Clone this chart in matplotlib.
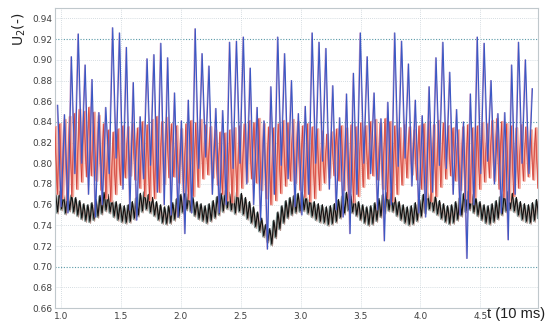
import numpy as np
import matplotlib
matplotlib.use("Agg")
import matplotlib.pyplot as plt

# ---------------- data ----------------
t_start, t_end = 0.95, 4.98

# blue series: spike peaks and the troughs between them
blue_peaks = [0.856, 0.847, 0.903, 0.925, 0.895, 0.881, 0.849, 0.854, 0.931, 0.926,
              0.912, 0.878, 0.845, 0.901, 0.905, 0.916, 0.902, 0.868,
              0.841, 0.861, 0.930, 0.906, 0.894, 0.853, 0.851, 0.917, 0.918, 0.922,
              0.892, 0.854, 0.841, 0.874, 0.922, 0.906, 0.880, 0.848,
              0.855, 0.926, 0.917, 0.911, 0.875, 0.844, 0.867, 0.887, 0.926, 0.903,
              0.868, 0.843, 0.859, 0.926, 0.918, 0.896, 0.861,
              0.846, 0.874, 0.902, 0.917, 0.888, 0.852, 0.840, 0.867, 0.922, 0.916,
              0.880, 0.848, 0.849, 0.895, 0.917, 0.900, 0.872]
blue_troughs = [0.758, 0.752, 0.790, 0.800, 0.770, 0.748, 0.760, 0.790, 0.805, 0.775,
                0.755, 0.745, 0.785, 0.798, 0.772, 0.760, 0.750, 0.748, 0.732, 0.752,
                0.795, 0.806, 0.770, 0.752, 0.760, 0.795, 0.800, 0.780, 0.760, 0.745,
                0.717, 0.770, 0.798, 0.785, 0.758, 0.750, 0.770, 0.800, 0.802, 0.775,
                0.755, 0.748, 0.732, 0.770, 0.800, 0.790, 0.755, 0.725, 0.760, 0.797,
                0.805, 0.778, 0.752, 0.748, 0.772, 0.798, 0.795, 0.770, 0.750, 0.708,
                0.760, 0.790, 0.802, 0.780, 0.752, 0.726, 0.770, 0.800, 0.790]
blue_first_t, blue_last_t = 0.97, 4.93

# red series: oscillation peaks and troughs
red_peaks = [0.835, 0.838, 0.842, 0.845, 0.848, 0.852, 0.850, 0.854, 0.849, 0.846,
             0.838, 0.832, 0.830, 0.833, 0.836, 0.835, 0.838, 0.834, 0.840, 0.837,
             0.842, 0.845, 0.840, 0.844, 0.838, 0.836, 0.833, 0.838, 0.841, 0.839,
             0.842, 0.837, 0.835, 0.832, 0.830, 0.829, 0.832, 0.834, 0.836, 0.838,
             0.841, 0.839, 0.843, 0.838, 0.835, 0.834, 0.838, 0.841, 0.839, 0.842,
             0.840, 0.836, 0.838, 0.835, 0.833, 0.831, 0.828, 0.830, 0.833, 0.836,
             0.834, 0.837, 0.835, 0.839, 0.836, 0.840, 0.842, 0.839, 0.843, 0.840,
             0.836, 0.834, 0.837, 0.835, 0.832, 0.836, 0.838, 0.840, 0.837, 0.841,
             0.839, 0.836, 0.834, 0.832, 0.835, 0.837, 0.834, 0.836, 0.839, 0.838,
             0.841, 0.843, 0.840, 0.838, 0.836, 0.834, 0.837, 0.835, 0.832, 0.834]
red_troughs = [0.770, 0.766, 0.764, 0.768, 0.775, 0.782, 0.787, 0.788, 0.783, 0.774,
               0.766, 0.763, 0.770, 0.779, 0.786, 0.788, 0.784, 0.776, 0.768, 0.764,
               0.766, 0.772, 0.780, 0.786, 0.787, 0.781, 0.772, 0.765, 0.768, 0.777,
               0.785, 0.789, 0.786, 0.779, 0.770, 0.764, 0.762, 0.768, 0.776, 0.782,
               0.785, 0.781, 0.774, 0.766, 0.760, 0.764, 0.771, 0.778, 0.783, 0.781,
               0.774, 0.767, 0.763, 0.766, 0.774, 0.781, 0.786, 0.788, 0.783, 0.774,
               0.766, 0.762, 0.768, 0.777, 0.785, 0.788, 0.784, 0.775, 0.766, 0.763,
               0.770, 0.779, 0.786, 0.789, 0.784, 0.775, 0.767, 0.763, 0.768, 0.777,
               0.785, 0.788, 0.783, 0.774, 0.766, 0.762, 0.767, 0.775, 0.782, 0.786,
               0.783, 0.775, 0.767, 0.763, 0.768, 0.776, 0.783, 0.787, 0.784, 0.776]

# black series: fast oscillation upper / lower values
black_hi = [0.770, 0.772, 0.768, 0.771, 0.769, 0.766, 0.763, 0.760, 0.759, 0.761,
            0.764, 0.768, 0.771, 0.769, 0.765, 0.762, 0.760, 0.758, 0.759, 0.762,
            0.766, 0.770, 0.772, 0.769, 0.766, 0.762, 0.759, 0.757, 0.758, 0.761,
            0.765, 0.769, 0.772, 0.770, 0.766, 0.762, 0.760, 0.758, 0.760, 0.763,
            0.767, 0.770, 0.773, 0.771, 0.769, 0.772, 0.770, 0.766, 0.762, 0.757,
            0.752, 0.746, 0.740, 0.736, 0.744, 0.752, 0.758, 0.763, 0.766, 0.768,
            0.770, 0.771, 0.768, 0.765, 0.762, 0.760, 0.759, 0.757, 0.758, 0.760,
            0.764, 0.768, 0.771, 0.769, 0.766, 0.762, 0.759, 0.757, 0.758, 0.761,
            0.765, 0.769, 0.771, 0.770, 0.766, 0.762, 0.759, 0.757, 0.758, 0.761,
            0.765, 0.769, 0.772, 0.770, 0.767, 0.763, 0.760, 0.758, 0.759, 0.762,
            0.766, 0.770, 0.772, 0.769, 0.766, 0.762, 0.759, 0.758, 0.760, 0.763,
            0.767, 0.770, 0.772, 0.770, 0.766, 0.762, 0.760, 0.759, 0.761, 0.764]
black_lo = [0.752, 0.755, 0.751, 0.754, 0.752, 0.749, 0.746, 0.744, 0.743, 0.745,
            0.748, 0.751, 0.754, 0.752, 0.748, 0.745, 0.743, 0.742, 0.743, 0.746,
            0.749, 0.753, 0.755, 0.752, 0.749, 0.745, 0.742, 0.741, 0.742, 0.745,
            0.748, 0.752, 0.755, 0.753, 0.749, 0.746, 0.744, 0.742, 0.744, 0.747,
            0.750, 0.753, 0.756, 0.754, 0.751, 0.753, 0.750, 0.746, 0.742, 0.738,
            0.734, 0.729, 0.724, 0.721, 0.728, 0.736, 0.742, 0.747, 0.750, 0.752,
            0.753, 0.754, 0.751, 0.748, 0.745, 0.743, 0.742, 0.740, 0.741, 0.743,
            0.747, 0.751, 0.754, 0.752, 0.749, 0.745, 0.742, 0.740, 0.741, 0.744,
            0.748, 0.752, 0.754, 0.753, 0.749, 0.745, 0.742, 0.740, 0.741, 0.744,
            0.748, 0.752, 0.755, 0.753, 0.750, 0.746, 0.743, 0.741, 0.742, 0.745,
            0.749, 0.753, 0.755, 0.752, 0.749, 0.745, 0.742, 0.741, 0.743, 0.746,
            0.750, 0.753, 0.755, 0.753, 0.749, 0.745, 0.743, 0.742, 0.744, 0.747]

x_ticks = [1.0, 1.5, 2.0, 2.5, 3.0, 3.5, 4.0, 4.5]
x_tick_labels = ["1.0", "1.5", "2.0", "2.5", "3.0", "3.5", "4.0", "4.5"]
y_ticks = [0.66, 0.68, 0.70, 0.72, 0.74, 0.76, 0.78, 0.80, 0.82, 0.84,
           0.86, 0.88, 0.90, 0.92, 0.94]
strong_grid = [0.70, 0.84, 0.92]


def interleave(hi, lo):
    out = []
    for a, b in zip(hi, lo):
        out += [a, b]
    return np.array(out)


# ---------------- figure ----------------
fig = plt.figure(figsize=(5.54, 3.25), dpi=100)
ax = fig.add_axes([0.099, 0.052, 0.872, 0.923])

ax.set_xlim(t_start, t_end)
ax.set_ylim(0.66, 0.95)

# grid
for y in y_ticks:
    strong = any(abs(y - s) < 1e-6 for s in strong_grid)
    ax.axhline(y, color="#5a9aa8" if strong else "#c8d2d8",
               lw=0.8 if strong else 0.6, ls=(0, (1, 1.5)), zorder=0)
for x in x_ticks:
    ax.axvline(x, color="#c8d2d8", lw=0.6, ls=(0, (1, 1.5)), zorder=0)

# black band
bv = interleave(black_hi, black_lo)
bt = np.linspace(t_start, t_end, len(bv))
ax.plot(bt, bv, color="#7d9290", lw=1.3, zorder=2)
ax.plot(bt + 0.011, bv - 0.001, color="#b09088", lw=0.8, zorder=2)
ax.plot(bt + 0.006, bv + 0.001, color="#111111", lw=0.8, zorder=2)

# red
rv = interleave(red_peaks, red_troughs)
rt = np.linspace(t_start, t_end, len(rv))
ax.plot(rt + 0.01, rv, color="#f3b0a4", lw=1.6, zorder=3)
ax.plot(rt, rv, color="#e8766a", lw=1.0, zorder=3)
ax.plot(rt, rv, color="#c42a24", lw=0.35, alpha=0.8, zorder=3)

# blue
bl = []
for i, p in enumerate(blue_peaks):
    bl.append(p)
    if i < len(blue_troughs):
        bl.append(blue_troughs[i])
bl = np.array(bl)
blt = np.linspace(blue_first_t, blue_last_t, len(bl))
ax.plot(blt, bl, color="#b27ab8", lw=0.9, alpha=0.8, zorder=4)
ax.plot(blt + 0.004, bl, color="#3c58c4", lw=0.8, zorder=5)

# axes styling
for s in ["top", "right", "left", "bottom"]:
    ax.spines[s].set_color("#c0c8cc")
    ax.spines[s].set_linewidth(0.8)
ax.set_xticks(x_ticks)
ax.set_xticklabels(x_tick_labels)
ax.set_yticks(y_ticks)
ax.set_yticklabels([f"{v:.2f}" for v in y_ticks])
ax.tick_params(axis="both", length=0, labelsize=6.5, colors="#404040", pad=2)
ax.tick_params(axis="x", pad=3)

fig.text(0.879, 0.012, "t (10 ms)", fontsize=10.5, family="Liberation Sans",
         color="#202020", ha="left", va="bottom")
fig.text(0.035, 0.96, "U$_2$(-)", fontsize=10, color="#202020", rotation=90,
         ha="center", va="top")

fig.savefig("out.png", dpi=100)
